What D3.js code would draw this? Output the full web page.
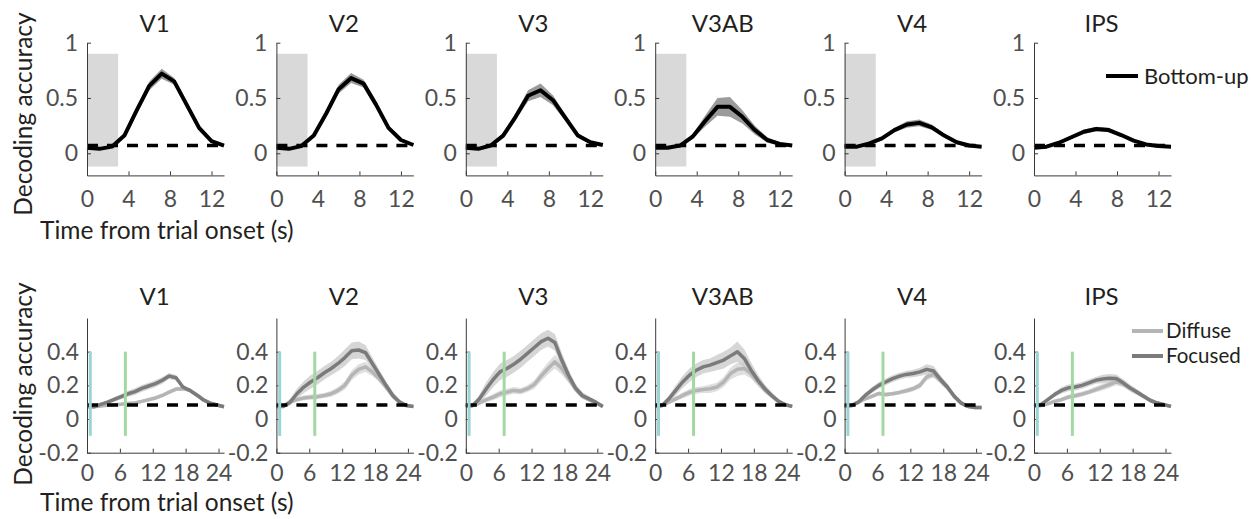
<!DOCTYPE html>
<html>
<head>
<meta charset="utf-8">
<script src="https://cdn.jsdelivr.net/npm/d3@7"></script>
<style>
  body { margin: 0; background: #fff; }
  svg { display: block; }
  text { font-family: Lato, "Open Sans", sans-serif; }
</style>
</head>
<body>
<svg id="chart" width="1253" height="519"></svg>
<script>
// ---- data ---------------------------------------------------------------
const regions = ["V1", "V2", "V3", "V3AB", "V4", "IPS"];

// Bottom-up experiment: time points (s)
const timeTop = [0, 1.2, 2.4, 3.6, 4.8, 6, 7.2, 8.4, 9.6, 10.8, 12, 13.2];
const buMeanV1   = [0.05, 0.04, 0.06, 0.16, 0.39, 0.61, 0.72, 0.65, 0.44, 0.23, 0.11, 0.07];
const buMeanV2   = [0.05, 0.04, 0.065, 0.16, 0.36, 0.58, 0.68, 0.63, 0.44, 0.23, 0.12, 0.075];
const buMeanV3   = [0.05, 0.04, 0.07, 0.16, 0.33, 0.52, 0.57, 0.48, 0.32, 0.16, 0.1, 0.075];
const buMeanV3AB = [0.05, 0.05, 0.07, 0.15, 0.29, 0.42, 0.42, 0.33, 0.21, 0.12, 0.085, 0.07];
const buMeanV4   = [0.06, 0.06, 0.09, 0.135, 0.21, 0.26, 0.275, 0.235, 0.16, 0.1, 0.07, 0.06];
const buMeanIPS  = [0.05, 0.06, 0.095, 0.145, 0.195, 0.22, 0.21, 0.165, 0.115, 0.08, 0.065, 0.06];
const buSemV1    = [0.01, 0.01, 0.01, 0.015, 0.025, 0.04, 0.045, 0.03, 0.025, 0.02, 0.015, 0.01];
const buSemV2    = [0.01, 0.01, 0.01, 0.015, 0.025, 0.04, 0.045, 0.035, 0.025, 0.02, 0.015, 0.01];
const buSemV3    = [0.01, 0.01, 0.01, 0.02, 0.03, 0.05, 0.06, 0.045, 0.03, 0.02, 0.015, 0.01];
const buSemV3AB  = [0.01, 0.01, 0.015, 0.02, 0.05, 0.08, 0.09, 0.06, 0.04, 0.025, 0.015, 0.01];
const buSemV4    = [0.01, 0.01, 0.01, 0.015, 0.02, 0.03, 0.03, 0.025, 0.02, 0.015, 0.01, 0.01];
const buSemIPS   = [0.01, 0.01, 0.01, 0.015, 0.02, 0.02, 0.02, 0.015, 0.01, 0.01, 0.01, 0.01];

// Attention experiment: time points (s)
const timeBottom = [0, 1.25, 2.5, 3.75, 5, 6.25, 7.5, 8.75, 10, 11.25, 12.5, 13.75, 15, 16.25, 17.5, 18.75, 20, 21.25, 22.5, 23.75, 25];
const focMeanV1   = [0.075, 0.073, 0.087, 0.1, 0.117, 0.133, 0.15, 0.163, 0.182, 0.196, 0.21, 0.23, 0.255, 0.245, 0.19, 0.17, 0.143, 0.113, 0.093, 0.083, 0.073];
const difMeanV1   = [0.073, 0.073, 0.078, 0.082, 0.085, 0.088, 0.092, 0.095, 0.105, 0.115, 0.125, 0.14, 0.16, 0.178, 0.18, 0.172, 0.145, 0.115, 0.095, 0.083, 0.073];
const focMeanV2   = [0.075, 0.075, 0.1, 0.15, 0.19, 0.22, 0.245, 0.275, 0.3, 0.33, 0.365, 0.405, 0.41, 0.395, 0.33, 0.265, 0.2, 0.14, 0.1, 0.08, 0.075];
const difMeanV2   = [0.075, 0.078, 0.1, 0.115, 0.125, 0.13, 0.133, 0.14, 0.15, 0.17, 0.2, 0.26, 0.295, 0.31, 0.28, 0.24, 0.19, 0.135, 0.1, 0.08, 0.075];
const focMeanV3   = [0.075, 0.08, 0.12, 0.18, 0.235, 0.28, 0.3, 0.325, 0.355, 0.39, 0.425, 0.46, 0.48, 0.455, 0.35, 0.26, 0.185, 0.14, 0.12, 0.1, 0.075];
const difMeanV3   = [0.075, 0.08, 0.095, 0.115, 0.13, 0.15, 0.16, 0.17, 0.165, 0.18, 0.205, 0.255, 0.3, 0.34, 0.3, 0.24, 0.18, 0.135, 0.115, 0.095, 0.075];
const focMeanV3AB = [0.075, 0.08, 0.12, 0.17, 0.22, 0.26, 0.29, 0.31, 0.32, 0.335, 0.35, 0.375, 0.4, 0.36, 0.29, 0.23, 0.18, 0.14, 0.105, 0.085, 0.075];
const difMeanV3AB = [0.075, 0.08, 0.1, 0.12, 0.14, 0.158, 0.17, 0.175, 0.18, 0.19, 0.22, 0.27, 0.295, 0.3, 0.27, 0.225, 0.175, 0.14, 0.105, 0.085, 0.075];
const focMeanV4   = [0.075, 0.08, 0.1, 0.14, 0.172, 0.2, 0.22, 0.24, 0.255, 0.265, 0.27, 0.28, 0.295, 0.285, 0.235, 0.19, 0.135, 0.095, 0.075, 0.068, 0.068];
const difMeanV4   = [0.075, 0.08, 0.1, 0.12, 0.135, 0.152, 0.145, 0.15, 0.158, 0.168, 0.18, 0.2, 0.25, 0.265, 0.23, 0.19, 0.135, 0.095, 0.075, 0.068, 0.068];
const focMeanIPS  = [0.075, 0.085, 0.115, 0.145, 0.17, 0.185, 0.19, 0.2, 0.215, 0.23, 0.238, 0.242, 0.24, 0.215, 0.185, 0.16, 0.135, 0.11, 0.095, 0.085, 0.075];
const difMeanIPS  = [0.075, 0.08, 0.09, 0.105, 0.115, 0.13, 0.138, 0.148, 0.16, 0.175, 0.19, 0.205, 0.22, 0.21, 0.185, 0.16, 0.135, 0.11, 0.095, 0.085, 0.075];

const focSemV1   = [0.005, 0.008, 0.01, 0.012, 0.014, 0.016, 0.018, 0.02, 0.02, 0.02, 0.02, 0.02, 0.018, 0.016, 0.014, 0.012, 0.01, 0.01, 0.008, 0.006, 0.005];
const difSemV1   = [0.005, 0.006, 0.008, 0.008, 0.008, 0.01, 0.01, 0.01, 0.01, 0.012, 0.012, 0.012, 0.012, 0.012, 0.012, 0.01, 0.01, 0.008, 0.006, 0.006, 0.005];
const focSemV2   = [0.005, 0.01, 0.02, 0.03, 0.035, 0.04, 0.04, 0.04, 0.04, 0.045, 0.05, 0.05, 0.05, 0.045, 0.035, 0.03, 0.025, 0.02, 0.015, 0.01, 0.008];
const difSemV2   = [0.005, 0.008, 0.01, 0.012, 0.014, 0.015, 0.015, 0.015, 0.018, 0.02, 0.025, 0.03, 0.03, 0.03, 0.025, 0.02, 0.018, 0.015, 0.01, 0.008, 0.006];
const focSemV3   = [0.005, 0.01, 0.025, 0.04, 0.045, 0.05, 0.05, 0.05, 0.05, 0.05, 0.05, 0.05, 0.05, 0.05, 0.045, 0.035, 0.025, 0.02, 0.015, 0.01, 0.008];
const difSemV3   = [0.005, 0.008, 0.012, 0.015, 0.018, 0.02, 0.02, 0.02, 0.02, 0.02, 0.025, 0.03, 0.035, 0.04, 0.035, 0.025, 0.02, 0.015, 0.012, 0.01, 0.006];
const focSemV3AB = [0.005, 0.01, 0.02, 0.03, 0.035, 0.04, 0.04, 0.04, 0.04, 0.045, 0.05, 0.05, 0.06, 0.055, 0.045, 0.035, 0.025, 0.02, 0.015, 0.01, 0.008];
const difSemV3AB = [0.005, 0.008, 0.012, 0.015, 0.018, 0.02, 0.02, 0.02, 0.025, 0.025, 0.03, 0.035, 0.04, 0.035, 0.03, 0.025, 0.02, 0.015, 0.012, 0.01, 0.006];
const focSemV4   = [0.005, 0.008, 0.012, 0.015, 0.018, 0.02, 0.02, 0.02, 0.02, 0.02, 0.022, 0.025, 0.03, 0.03, 0.025, 0.02, 0.018, 0.015, 0.012, 0.01, 0.008];
const difSemV4   = [0.005, 0.008, 0.01, 0.012, 0.012, 0.012, 0.012, 0.012, 0.012, 0.015, 0.015, 0.018, 0.02, 0.02, 0.02, 0.018, 0.015, 0.012, 0.01, 0.008, 0.006];
const focSemIPS  = [0.005, 0.008, 0.012, 0.015, 0.018, 0.02, 0.02, 0.02, 0.02, 0.02, 0.025, 0.025, 0.025, 0.022, 0.02, 0.018, 0.015, 0.012, 0.01, 0.008, 0.006];
const difSemIPS  = [0.005, 0.008, 0.01, 0.012, 0.012, 0.014, 0.015, 0.015, 0.015, 0.018, 0.02, 0.02, 0.02, 0.02, 0.018, 0.015, 0.012, 0.01, 0.01, 0.008, 0.006];

// chance levels, stimulus / cue timing
const chanceTop = 0.07;
const chanceBottom = 0.083;
const stimWindowTop = [0, 3];          // shaded stimulus window (s)
const stimWindowYTop = [-0.12, 0.9];
const cueTimes = [0.6, 7];              // vertical markers (s)
const cueYRange = [-0.1, 0.4];

// tick labels
const topXTicks = [0, 4, 8, 12];
const topYTicks = [0, 0.5, 1];
const bottomXTicks = [0, 6, 12, 18, 24];
const bottomYTicks = [-0.2, 0, 0.2, 0.4];

const topMeans = [buMeanV1, buMeanV2, buMeanV3, buMeanV3AB, buMeanV4, buMeanIPS];
const topSems = [buSemV1, buSemV2, buSemV3, buSemV3AB, buSemV4, buSemIPS];
const focMeans = [focMeanV1, focMeanV2, focMeanV3, focMeanV3AB, focMeanV4, focMeanIPS];
const focSems = [focSemV1, focSemV2, focSemV3, focSemV3AB, focSemV4, focSemIPS];
const difMeans = [difMeanV1, difMeanV2, difMeanV3, difMeanV3AB, difMeanV4, difMeanIPS];
const difSems = [difSemV1, difSemV2, difSemV3, difSemV3AB, difSemV4, difSemIPS];

// ---- layout -------------------------------------------------------------
const svg = d3.select("#chart");
const panelLeft = 87, panelStep = 189.4, panelWidth = 137;
const tickColor = "#505050", axisColor = "#3a3a3a", titleColor = "#231f20";
const fontTick = 23, fontTitle = 24, fontLabel = 24.5, fontLegend = 22, fontLegend2 = 20.5;

const topY = d3.scaleLinear().domain([-0.2, 1]).range([175.4, 42.7]);
const bottomY = d3.scaleLinear().domain([-0.2, 0.6]).range([452.7, 318]);

function fmt(d) { return d === 0 ? "0" : String(d); }

function drawAxes(g, x, y, xTicks, yTicks, xPad, yPad) {
  const yAxis = d3.axisLeft(y).tickValues(yTicks).tickFormat(fmt)
    .tickSizeInner(-4).tickSizeOuter(0).tickPadding(yPad);
  const xAxis = d3.axisBottom(x).tickValues(xTicks).tickFormat(fmt)
    .tickSizeInner(-4).tickSizeOuter(0).tickPadding(xPad);
  const ga = g.append("g").attr("transform", `translate(${x.range()[0]},0)`).call(yAxis);
  const gb = g.append("g").attr("transform", `translate(0,${y.range()[0]})`).call(xAxis);
  [ga, gb].forEach(a => {
    a.selectAll("path.domain").attr("stroke", axisColor).attr("stroke-width", 1);
    a.selectAll(".tick line").attr("stroke", axisColor).attr("stroke-width", 1);
    a.selectAll(".tick text").attr("fill", tickColor).style("font-size", fontTick + "px")
      .style("font-family", "Lato, 'Open Sans', sans-serif");
  });
}

function band(x, y, t, m, s) {
  return d3.area().x((d, i) => x(t[i])).y0((d, i) => y(m[i] - s[i])).y1((d, i) => y(m[i] + s[i]))(m);
}
function line(x, y, t, m) {
  return d3.line().x((d, i) => x(t[i])).y((d, i) => y(m[i]))(m);
}

// ---- top row: bottom-up decoding ---------------------------------------
regions.forEach((name, k) => {
  const x0 = panelLeft + k * panelStep;
  const x = d3.scaleLinear().domain([0, 13.2]).range([x0, x0 + panelWidth]);
  const y = topY;
  const g = svg.append("g");

  if (name !== "IPS") {
    g.append("rect")
      .attr("x", x(stimWindowTop[0])).attr("width", x(stimWindowTop[1]) - x(stimWindowTop[0]))
      .attr("y", y(stimWindowYTop[1])).attr("height", y(stimWindowYTop[0]) - y(stimWindowYTop[1]))
      .attr("fill", "#d9d9d9");
  }
  g.append("path").attr("d", band(x, y, timeTop, topMeans[k], topSems[k]))
    .attr("fill", "#8a8a8a").attr("opacity", 0.85);
  g.append("path").attr("d", line(x, y, timeTop, topMeans[k]))
    .attr("fill", "none").attr("stroke", "#000").attr("stroke-width", 4)
    .attr("stroke-linejoin", "round");
  g.append("line").attr("x1", x(0)).attr("x2", x(13.2))
    .attr("y1", y(chanceTop)).attr("y2", y(chanceTop))
    .attr("stroke", "#000").attr("stroke-width", 3.5).attr("stroke-dasharray", "11,9");

  drawAxes(g, x, y, topXTicks, topYTicks, 15, 9);

  g.append("text").attr("x", x0 + panelWidth / 2 - 1).attr("y", 32)
    .attr("text-anchor", "middle").attr("fill", titleColor)
    .style("font-size", fontTitle + "px").text(name);
});

// ---- bottom row: attention conditions ----------------------------------
regions.forEach((name, k) => {
  const x0 = panelLeft + k * panelStep;
  const x = d3.scaleLinear().domain([0, 25]).range([x0, x0 + panelWidth]);
  const y = bottomY;
  const g = svg.append("g");

  g.append("path").attr("d", band(x, y, timeBottom, difMeans[k], difSems[k]))
    .attr("fill", "#d4d4d4").attr("opacity", 0.75);
  g.append("path").attr("d", band(x, y, timeBottom, focMeans[k], focSems[k]))
    .attr("fill", "#c4c4c4").attr("opacity", 0.7);
  g.append("path").attr("d", line(x, y, timeBottom, difMeans[k]))
    .attr("fill", "none").attr("stroke", "#b5b5b5").attr("stroke-width", 3.5)
    .attr("stroke-linejoin", "round");
  g.append("path").attr("d", line(x, y, timeBottom, focMeans[k]))
    .attr("fill", "none").attr("stroke", "#7b7b7b").attr("stroke-width", 3.5)
    .attr("stroke-linejoin", "round");
  g.append("line").attr("x1", x(0)).attr("x2", x(25))
    .attr("y1", y(chanceBottom)).attr("y2", y(chanceBottom))
    .attr("stroke", "#000").attr("stroke-width", 3.5).attr("stroke-dasharray", "11,9");

  drawAxes(g, x, y, bottomXTicks, bottomYTicks, 11.5, 8);

  // cue markers drawn above the axis line
  const cueColors = ["#9cd3d3", "#a3d8a3"];
  cueTimes.forEach((t, i) => {
    g.append("line").attr("x1", x(t)).attr("x2", x(t))
      .attr("y1", y(cueYRange[0])).attr("y2", y(cueYRange[1]))
      .attr("stroke", cueColors[i]).attr("stroke-width", 3);
  });

  g.append("text").attr("x", x0 + panelWidth / 2 - 1).attr("y", 305)
    .attr("text-anchor", "middle").attr("fill", titleColor)
    .style("font-size", fontTitle + "px").text(name);
});

// ---- axis labels ----------------------------------------------------------
[[114, 239], [384, 511]].forEach(([yc, xb]) => {
  svg.append("text").attr("transform", `translate(32,${yc}) rotate(-90)`)
    .attr("text-anchor", "middle").attr("fill", titleColor)
    .style("font-size", fontLabel + "px").text("Decoding accuracy");
  svg.append("text").attr("x", 40).attr("y", xb).attr("fill", titleColor)
    .style("font-size", fontLabel + "px").text("Time from trial onset (s)");
});

// ---- legends ----------------------------------------------------------------
const legTop = svg.append("g");
legTop.append("line").attr("x1", 1106).attr("x2", 1138).attr("y1", 76).attr("y2", 76)
  .attr("stroke", "#000").attr("stroke-width", 4);
legTop.append("text").attr("x", 1144).attr("y", 84).attr("fill", titleColor)
  .style("font-size", fontLegend + "px").text("Bottom-up");

const legendItems = [["Diffuse", "#b5b5b5", 331], ["Focused", "#7b7b7b", 356]];
legendItems.forEach(([label, color, yy]) => {
  svg.append("line").attr("x1", 1132).attr("x2", 1163).attr("y1", yy).attr("y2", yy)
    .attr("stroke", color).attr("stroke-width", 4);
  svg.append("text").attr("x", 1166).attr("y", yy + 7).attr("fill", titleColor)
    .style("font-size", fontLegend2 + "px").text(label);
});
</script>
</body>
</html>
